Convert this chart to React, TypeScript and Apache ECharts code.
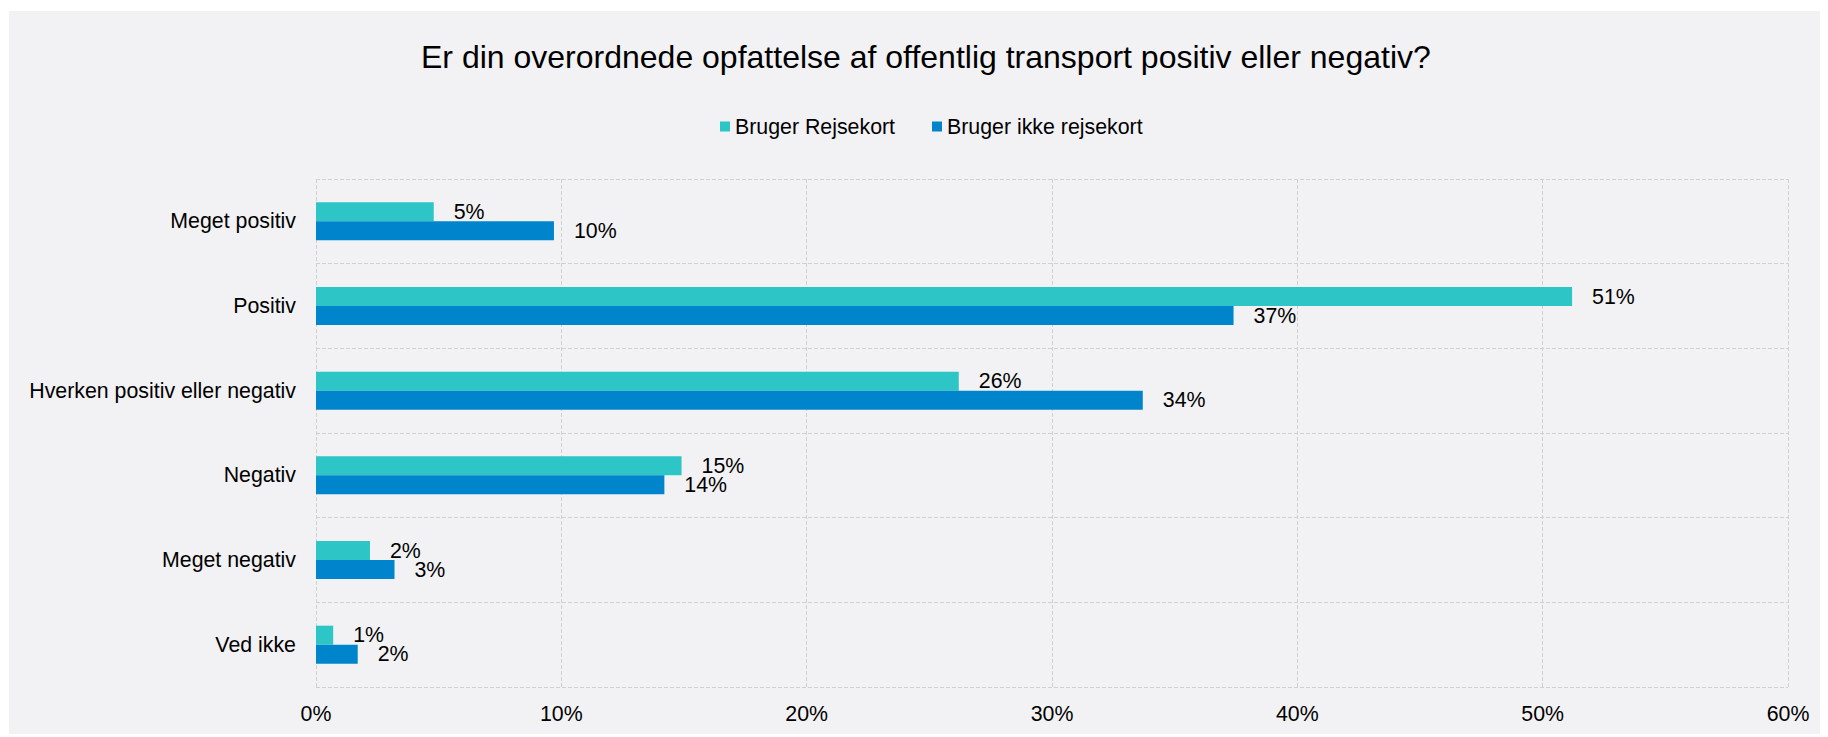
import React, { useEffect, useRef } from "react";
import * as echarts from "echarts";

const categories = [
  "Meget positiv",
  "Positiv",
  "Hverken positiv eller negativ",
  "Negativ",
  "Meget negativ",
  "Ved ikke",
];
const seriesNames = ["Bruger Rejsekort", "Bruger ikke rejsekort"];
const brugerRejsekort = [4.8, 51.2, 26.2, 14.9, 2.2, 0.7];
const brugerIkkeRejsekort = [9.7, 37.4, 33.7, 14.2, 3.2, 1.7];
const xTicks = { min: 0, max: 60, interval: 10 };

const FONT = "Liberation Sans, Arial, sans-serif";
const FS = 21.33;

export default function App() {
  const ref = useRef<HTMLDivElement>(null);
  useEffect(() => {
    if (!ref.current) return;
    const chart = echarts.init(ref.current, undefined, { renderer: "svg" });
    const label = {
      show: true,
      position: "right",
      distance: 20,
      color: "#000",
      fontFamily: FONT,
      fontSize: FS,
      formatter: (p: any) => Math.round(p.value) + "%",
    };
    chart.setOption({
      animation: false,
      backgroundColor: "#f2f2f4",
      textStyle: { fontFamily: FONT },
      title: {
        text: "Er din overordnede opfattelse af offentlig transport positiv eller negativ?",
        left: 407,
        top: 25,
        textStyle: { fontFamily: FONT, fontSize: 32, fontWeight: "normal", color: "#000" },
      },
      legend: {
        left: 706,
        top: 100,
        itemWidth: 10,
        itemHeight: 10,
        itemGap: 37,
        icon: "rect",
        textStyle: { fontFamily: FONT, fontSize: FS, color: "#000", padding: [0, 0, 0, 0] },
        data: seriesNames,
      },
      grid: { left: 307, right: 40, top: 168, bottom: 50, containLabel: false },
      xAxis: {
        type: "value",
        min: xTicks.min,
        max: xTicks.max,
        interval: xTicks.interval,
        axisLine: { show: false },
        axisTick: { show: false },
        axisLabel: {
          formatter: "{value}%",
          color: "#000",
          fontFamily: FONT,
          fontSize: FS,
          margin: 16,
        },
        splitLine: { show: true, lineStyle: { color: "#d0d0d4", type: "dashed", width: 1 } },
      },
      yAxis: {
        type: "category",
        data: categories,
        inverse: true,
        axisLine: { show: false },
        axisTick: { show: false },
        axisLabel: { color: "#000", fontFamily: FONT, fontSize: FS, margin: 20 },
        splitLine: { show: true, lineStyle: { color: "#d0d0d4", type: "dashed", width: 1 } },
      },
      series: [
        {
          name: seriesNames[0],
          type: "bar",
          data: brugerRejsekort,
          barWidth: 19,
          barGap: "0%",
          itemStyle: { color: "#2ec5c6" },
          label,
        },
        {
          name: seriesNames[1],
          type: "bar",
          data: brugerIkkeRejsekort,
          barWidth: 19,
          barGap: "0%",
          itemStyle: { color: "#0085cc" },
          label,
        },
      ],
    });
    return () => chart.dispose();
  }, []);
  return (
    <div style={{ position: "relative", left: 1, top: 3, width: 1819, height: 726, overflow: "hidden" }}>
      <div ref={ref} style={{ width: 1819, height: 726 }} />
    </div>
  );
}
